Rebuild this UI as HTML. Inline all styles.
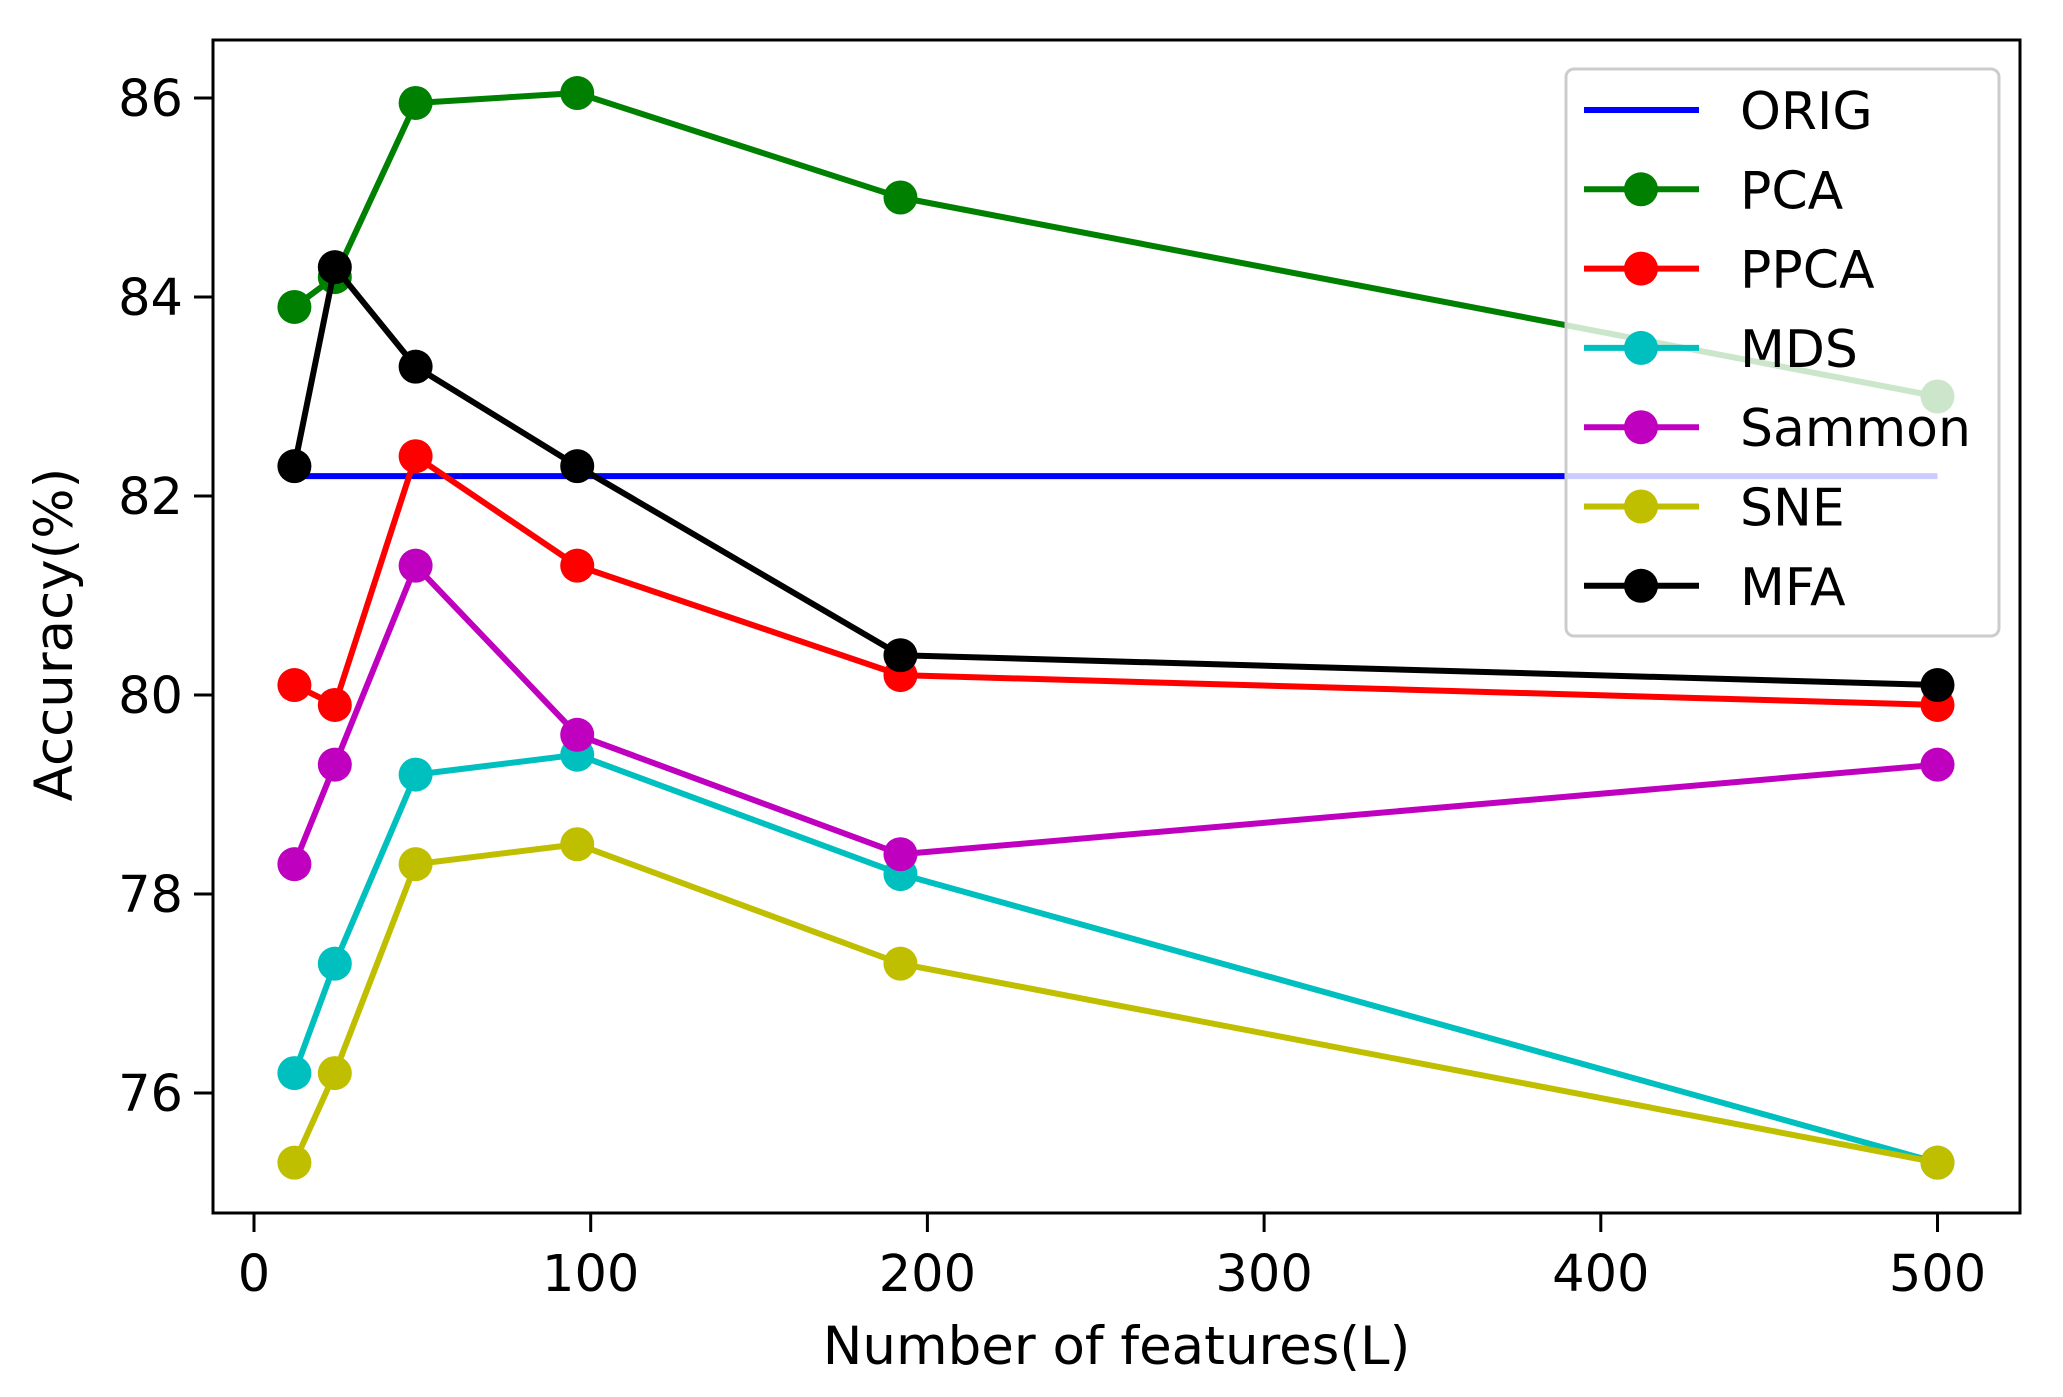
<!DOCTYPE html>
<html><head><meta charset="utf-8"><style>
html,body{margin:0;padding:0;background:#fff;}
svg{display:block;font-family:"DejaVu Sans","Liberation Sans",sans-serif;}
</style></head><body>
<svg id="chart" width="2063" height="1397" viewBox="0 0 2063 1397" xmlns="http://www.w3.org/2000/svg">
<g id="plot"></g>
</svg>
<script>
const xValues = [12, 24, 48, 96, 192, 500];
const origValue = 82.2;
const pcaValues = [83.9, 84.2, 85.95, 86.05, 85.0, 83.0];
const ppcaValues = [80.1, 79.9, 82.4, 81.3, 80.2, 79.9];
const mdsValues = [76.2, 77.3, 79.2, 79.4, 78.2, 75.3];
const sammonValues = [78.3, 79.3, 81.3, 79.6, 78.4, 79.3];
const sneValues = [75.3, 76.2, 78.3, 78.5, 77.3, 75.3];
const mfaValues = [82.3, 84.3, 83.3, 82.3, 80.4, 80.1];
const xTicks = [0, 100, 200, 300, 400, 500];
const yTicks = [76, 78, 80, 82, 84, 86];
const seriesNames = ["PCA", "PPCA", "MDS", "Sammon", "SNE", "MFA"];

const NS = "http://www.w3.org/2000/svg";
const L = 213, R = 2020, T = 40, B = 1213;
function sx(v){ return 254 + v * 3.367; }
function sy(v){ return 98 + (86 - v) * 99.5; }
const g = document.getElementById('plot');
function el(tag, attrs, parent){
  const e = document.createElementNS(NS, tag);
  for (const k in attrs) e.setAttribute(k, attrs[k]);
  (parent || g).appendChild(e);
  return e;
}
const colors = ["#008000", "#ff0000", "#00bfbf", "#bf00bf", "#bfbf00", "#000000"];
const allSeries = [pcaValues, ppcaValues, mdsValues, sammonValues, sneValues, mfaValues];
const LW = 6;

let o = el('line', {x1: sx(xValues[0]), x2: sx(xValues[xValues.length-1]), y1: sy(origValue), y2: sy(origValue), stroke: '#0000ff', 'stroke-width': LW});



allSeries.forEach((vals, i) => {
  const pts = vals.map((v, j) => sx(xValues[j]) + ',' + sy(v)).join(' ');
  const pl = el('polyline', {points: pts, fill: 'none', stroke: colors[i], 'stroke-width': LW, 'stroke-linejoin': 'round'});
  
  
  vals.forEach((v, j) => {
    const c = el('circle', {cx: sx(xValues[j]), cy: sy(v), r: 17, fill: colors[i]});
    
    
  });
});

const fr = el('rect', {x: L, y: T, width: R - L, height: B - T, fill: 'none', stroke: '#000', 'stroke-width': 3});



xTicks.forEach(t => {
  const tl = el('line', {x1: sx(t), x2: sx(t), y1: B, y2: B + 19, stroke: '#000', 'stroke-width': 3});
  
  
  const tx = el('text', {x: sx(t), y: 1291, 'font-size': 51, 'text-anchor': 'middle', fill: '#000'});
  tx.textContent = t;
  
  
});
yTicks.forEach(t => {
  const tl = el('line', {x1: L - 19, x2: L, y1: sy(t), y2: sy(t), stroke: '#000', 'stroke-width': 3});
  
  
  const tx = el('text', {x: L - 30, y: sy(t) + 18, 'font-size': 51, 'text-anchor': 'end', fill: '#000'});
  tx.textContent = t;
  
  
});
const xl = el('text', {x: (L + R) / 2, y: 1364, 'font-size': 53, 'text-anchor': 'middle', fill: '#000'});
xl.textContent = 'Number of features(L)';


const yl = el('text', {x: 0, y: 0, 'font-size': 53, 'text-anchor': 'middle', fill: '#000', transform: 'translate(72,' + ((T + B) / 2 + 8) + ') rotate(-90)'});
yl.textContent = 'Accuracy(%)';



const lg = el('g', {});


el('rect', {x: 1566, y: 69, width: 433, height: 567, rx: 8, fill: 'rgba(255,255,255,0.8)', stroke: '#cccccc', 'stroke-width': 3}, lg);
const legNames = ["ORIG"].concat(seriesNames);
const legColors = ["#0000ff"].concat(colors);
legNames.forEach((n, i) => {
  const y = 110 + i * 79.3;
  const eg = el('g', {}, lg);
  
  
  el('line', {x1: 1584, x2: 1699, y1: y, y2: y, stroke: legColors[i], 'stroke-width': LW}, eg);
  if (i > 0) el('circle', {cx: 1641, cy: y, r: 17, fill: legColors[i]}, eg);
  const t = el('text', {x: 1740, y: y + 19, 'font-size': 52, fill: '#000'}, eg);
  t.textContent = n;
});
</script>
</body></html>
